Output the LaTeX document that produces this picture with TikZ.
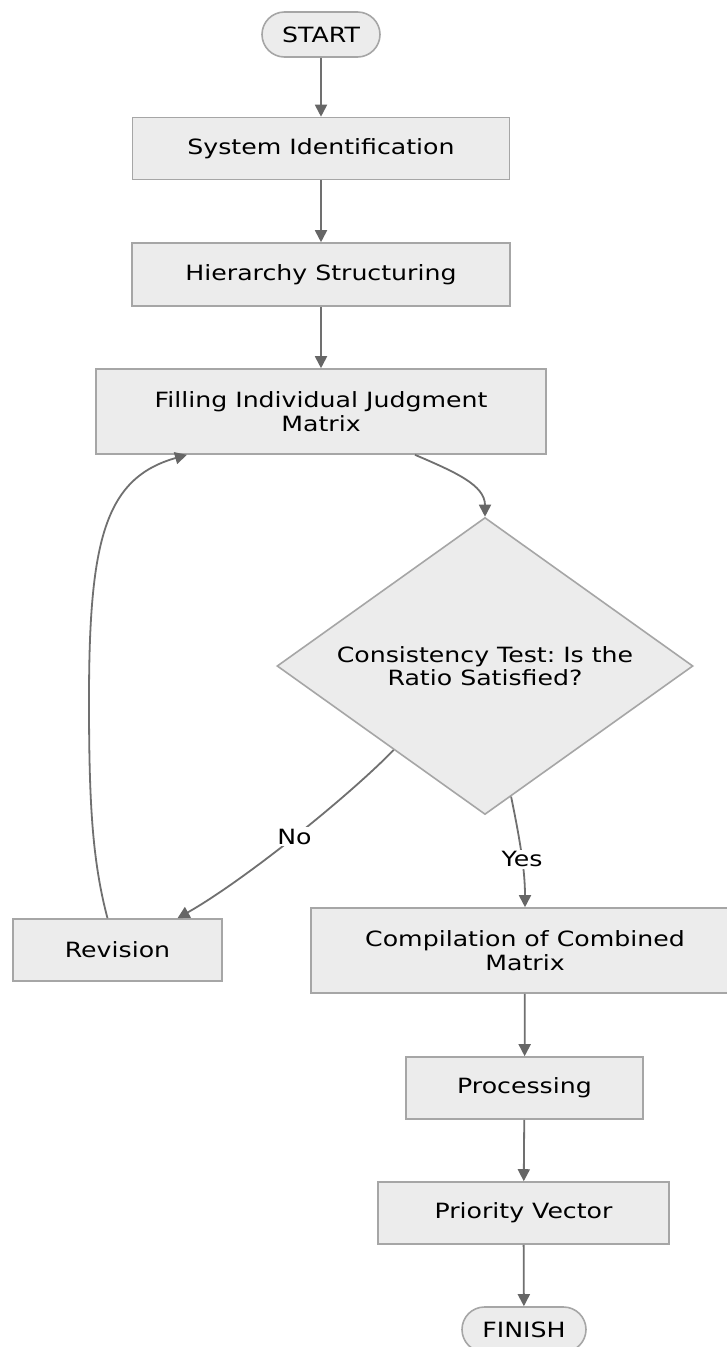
\documentclass[tikz,border=0pt]{standalone}
\usepackage{fontspec}
\setmainfont{DejaVu Sans}[FakeStretch=1.2]
\usetikzlibrary{shapes.geometric,shapes.misc,arrows.meta,calc}
\definecolor{boxfill}{HTML}{ECECEC}
\definecolor{boxline}{HTML}{A6A6A6}
\definecolor{edgecol}{HTML}{707070}
\definecolor{tipcol}{HTML}{666666}
\begin{document}
\frenchspacing
\begin{tikzpicture}[x=1pt,y=-1pt,
  txt/.style={font=\fontsize{21}{23.5}\selectfont},
  procbox/.style={txt,rectangle,draw=boxline,fill=boxfill,line width=1.6pt,align=center,inner sep=0pt},
  termbox/.style={txt,rounded rectangle,draw=boxline,fill=boxfill,line width=1.6pt,inner sep=0pt},
  decbox/.style={txt,diamond,aspect=1.4,draw=boxline,fill=boxfill,line width=1.6pt,align=center,inner sep=0pt},
  flow/.style={draw=edgecol,line width=1.8pt,-{Triangle[length=12pt,width=12pt,color=tipcol]}},
  lbl/.style={txt,fill=white,inner sep=2pt}]
\useasboundingbox (0,0) rectangle (727,1347);
\fill[white] (0,0) rectangle (727,1347);
\node[termbox,minimum width=118pt,minimum height=45pt] (start) at (321,34.5) {START};
\node[procbox,minimum width=377pt,minimum height=62pt] (sys) at (321,148.5) {System Identification};
\node[procbox,minimum width=378pt,minimum height=63pt] (hier) at (321,274.5) {Hierarchy Structuring};
\node[procbox,minimum width=450pt,minimum height=85pt] (judg) at (321,411.5) {Filling Individual Judgment\\Matrix};
\node[decbox,minimum width=416pt,minimum height=297pt] (dia) at (485,666) {Consistency Test: Is the\\Ratio Satisfied?};
\node[procbox,minimum width=209pt,minimum height=62pt] (rev) at (117.5,950) {Revision};
\node[procbox,minimum width=428pt,minimum height=85pt] (comp) at (525,950.5) {Compilation of Combined\\Matrix};
\node[procbox,minimum width=237pt,minimum height=62pt] (procn) at (524.5,1088) {Processing};
\node[procbox,minimum width=291pt,minimum height=62pt] (prio) at (523.5,1213) {Priority Vector};
\node[termbox,minimum width=124pt,minimum height=45pt] (finish) at (524,1329.5) {FINISH};

\draw[flow] (start) -- (sys);
\draw[flow] (sys) -- (hier);
\draw[flow] (hier) -- (judg);
\draw[flow] ([xshift=94pt]judg.south) .. controls (455,472) and (485,485) .. (dia.north);
\draw[flow] ($(dia.west)!0.5625!(dia.south)$) .. controls (350,795) and (245,880) .. node[lbl,pos=0.5]{No} ([xshift=60pt]rev.north);
\draw[flow] ($(dia.south)!0.125!(dia.east)$) .. controls (520,840) and (525,870) .. node[lbl,pos=0.55]{Yes} (comp.north);
\draw[flow] ([xshift=-10pt]rev.north) .. controls (92,860) and (89,800) .. (89,700) .. controls (89,540) and (105,478) .. ([xshift=-134pt]judg.south);
\draw[flow] (comp) -- (procn);
\draw[flow] (procn) -- (prio);
\draw[flow] (prio) -- (finish);
\end{tikzpicture}
\end{document}
